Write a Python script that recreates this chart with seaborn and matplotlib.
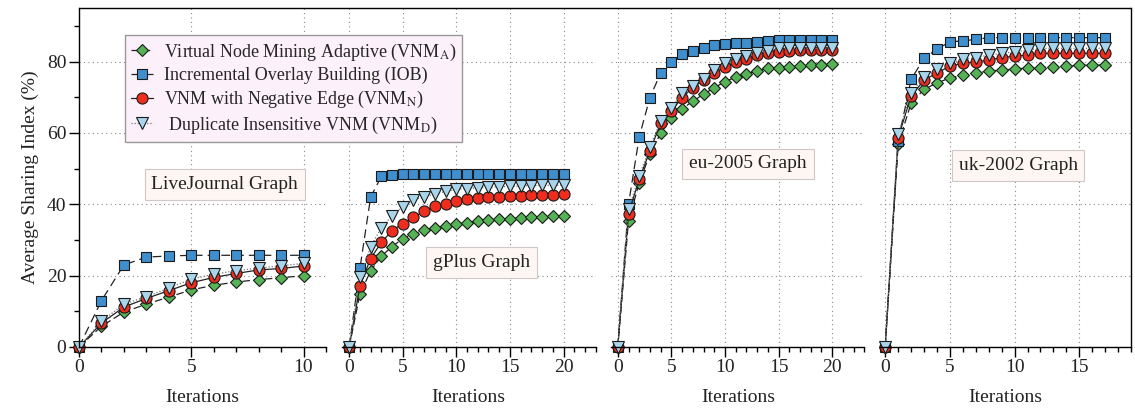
import matplotlib

matplotlib.use("Agg")
import matplotlib.pyplot as plt
import pandas as pd
import seaborn as sns
from matplotlib.lines import Line2D
from matplotlib.ticker import MultipleLocator

# --- data (Average Sharing Index, %) ---
lj_iter = list(range(11))
lj_vnma = [0, 5.8, 9.8, 12.0, 14.0, 16.0, 17.3, 18.2, 18.9, 19.4, 20.0]
lj_iob = [0, 13.0, 23.0, 25.2, 25.5, 25.7, 25.7, 25.7, 25.7, 25.7, 25.7]
lj_vnmn = [0, 6.7, 11.2, 13.6, 15.8, 18.0, 19.5, 20.6, 21.6, 22.0, 22.7]
lj_vnmd = [0, 7.2, 12.0, 14.1, 16.5, 19.0, 20.4, 21.4, 22.1, 22.8, 23.4]

gp_iter = list(range(21))
gp_vnma = [0, 14.8, 21.3, 25.5, 28.1, 30.4, 31.6, 32.8, 33.4, 34.0, 34.5,
           34.8, 35.4, 35.6, 35.8, 36.0, 36.1, 36.4, 36.5, 36.6, 36.7]
gp_iob = [0, 22.0, 42.0, 47.8, 48.3, 48.5, 48.5, 48.5, 48.5, 48.5, 48.5,
          48.5, 48.5, 48.5, 48.5, 48.5, 48.5, 48.5, 48.5, 48.5, 48.5]
gp_vnmn = [0, 17.1, 24.8, 29.3, 32.6, 34.6, 36.3, 38.1, 39.5, 40.2, 40.9,
           41.4, 41.7, 41.9, 42.1, 42.3, 42.4, 42.5, 42.6, 42.7, 42.9]
gp_vnmd = [0, 19.7, 28.1, 33.4, 36.8, 39.3, 41.2, 42.1, 42.9, 43.6, 44.2,
           44.4, 44.6, 44.8, 44.9, 45.0, 45.1, 45.2, 45.3, 45.3, 45.4]

eu_iter = list(range(21))
eu_vnma = [0, 35.3, 46.0, 54.1, 59.9, 64.1, 66.7, 68.9, 70.8, 72.7, 74.3,
           75.7, 76.6, 77.4, 78.1, 78.3, 78.5, 78.7, 78.9, 79.1, 79.3]
eu_iob = [0, 40.0, 58.9, 69.9, 76.8, 79.8, 82.1, 83.0, 83.8, 84.5, 84.9,
          85.2, 85.3, 85.5, 85.7, 85.9, 85.9, 85.9, 85.9, 85.9, 85.9]
eu_vnmn = [0, 37.4, 47.0, 55.0, 62.7, 66.1, 69.9, 72.7, 74.8, 76.8, 78.5,
           79.9, 80.7, 81.8, 82.3, 82.7, 83.0, 83.2, 83.2, 83.2, 83.2]
eu_vnmd = [0, 38.6, 47.9, 56.1, 63.4, 66.9, 71.1, 73.1, 75.0, 77.6, 79.5,
           80.6, 81.5, 82.4, 83.0, 83.7, 83.7, 83.7, 83.7, 83.7, 83.7]

uk_iter = list(range(18))
uk_vnma = [0, 56.9, 68.3, 72.2, 74.0, 75.4, 76.2, 76.8, 77.3, 77.6, 77.9,
           78.2, 78.3, 78.5, 78.7, 78.9, 79.0, 79.0]
uk_iob = [0, 57.7, 75.0, 80.9, 83.5, 85.5, 85.8, 86.2, 86.7, 86.7, 86.7,
          86.7, 86.7, 86.7, 86.7, 86.7, 86.7, 86.7]
uk_vnmn = [0, 58.7, 70.3, 74.8, 76.8, 78.7, 79.5, 79.9, 80.4, 81.1, 81.5,
           81.8, 82.3, 82.3, 82.3, 82.3, 82.3, 82.3]
uk_vnmd = [0, 59.7, 71.2, 75.7, 77.9, 79.6, 80.6, 81.1, 81.8, 82.3, 82.7,
           83.2, 83.7, 83.7, 83.7, 83.7, 83.7, 83.7]

panel_titles = ["LiveJournal Graph", "gPlus Graph", "eu-2005 Graph", "uk-2002 Graph"]
series_labels = [
    r"Virtual Node Mining Adaptive (VNM$_\mathrm{A}$)",
    "Incremental Overlay Building (IOB)",
    r"VNM with Negative Edge (VNM$_\mathrm{N}$)",
    r" Duplicate Insensitive VNM (VNM$_\mathrm{D}$)",
]

PANELS = [
    (lj_iter, [lj_vnma, lj_iob, lj_vnmn, lj_vnmd]),
    (gp_iter, [gp_vnma, gp_iob, gp_vnmn, gp_vnmd]),
    (eu_iter, [eu_vnma, eu_iob, eu_vnmn, eu_vnmd]),
    (uk_iter, [uk_vnma, uk_iob, uk_vnmn, uk_vnmd]),
]

# styling
STYLES = [
    dict(marker="D", markersize=6.5, markerfacecolor="#55b255", color="#222222", linestyle=(0, (6, 3))),
    dict(marker="s", markersize=7, markerfacecolor="#3f8fce", color="#222222", linestyle=(0, (7, 4))),
    dict(marker="o", markersize=8, markerfacecolor="#ee2d1e", color="#222222", linestyle="-"),
    dict(marker="v", markersize=8.5, markerfacecolor="#a9d5ec", color="#777777", linestyle=(0, (1, 1.5))),
]
XLIMS = [(0, 11), (-0.7, 23), (-0.6, 23), (-0.4, 19)]
TITLE_POS = [(0.59, 0.48), (0.55, 0.25), (0.54, 0.54), (0.55, 0.535)]

sns.set_theme(style="ticks")
plt.rcParams["font.family"] = ["Liberation Serif", "DejaVu Serif"]
plt.rcParams["mathtext.fontset"] = "stix"

fig, axes = plt.subplots(
    1, 4, figsize=(11.35, 4.09), dpi=100, sharey=True,
    gridspec_kw=dict(width_ratios=[247, 254, 253, 251], wspace=0.0625,
                     left=0.0696, right=0.9965, bottom=0.1516, top=0.9804),
)

for i, (ax, (iters, values)) in enumerate(zip(axes, PANELS)):
    for label, vals, style in zip(series_labels, values, STYLES):
        df = pd.DataFrame({"Iterations": iters, "Sharing": vals})
        sns.lineplot(
            data=df, x="Iterations", y="Sharing", ax=ax, label=label,
            legend=False, linewidth=0.9, markeredgecolor="#1a1a1a",
            markeredgewidth=0.8, clip_on=False, **style,
        )
    ax.set_xlim(*XLIMS[i])
    ax.set_ylim(0, 95)
    ax.xaxis.set_major_locator(MultipleLocator(5))
    ax.xaxis.set_minor_locator(MultipleLocator(1))
    ax.yaxis.set_major_locator(MultipleLocator(20))
    ax.yaxis.set_minor_locator(MultipleLocator(10))
    ax.grid(True, which="major", color="#8a8a8a", linestyle=(0, (1, 3)), linewidth=0.8)
    ax.set_axisbelow(True)
    ax.tick_params(which="major", direction="out", length=7, width=1, labelsize=14,
                   color="black", labelcolor="#222222", pad=2)
    ax.tick_params(which="minor", direction="out", length=3.5, width=1, color="black")
    ax.spines["top"].set_visible(False)
    for side in ("left", "right", "bottom"):
        ax.spines[side].set_color("black")
        ax.spines[side].set_linewidth(1.0)
    if i > 0:
        ax.spines["left"].set_visible(False)
        ax.tick_params(axis="y", which="both", left=False, labelleft=False)
    if i < 3:
        ax.spines["right"].set_visible(False)
    ax.set_xlabel("Iterations", fontsize=14, color="#222222", labelpad=9)
    ax.set_ylabel("")
    ax.text(
        TITLE_POS[i][0], TITLE_POS[i][1], panel_titles[i], transform=ax.transAxes,
        ha="center", va="center", fontsize=14, color="#222222",
        bbox=dict(boxstyle="square,pad=0.35", facecolor="#fdf6f3", edgecolor="#cfc8c6", linewidth=0.8),
    )

axes[0].set_ylabel("Average Sharing Index (%)", fontsize=14, color="#222222", labelpad=6)

# continuous top frame across all panels
fig.add_artist(Line2D([0.0696, 0.9965], [0.9804, 0.9804], transform=fig.transFigure,
                      color="black", linewidth=1.0))

handles, labels = axes[0].get_legend_handles_labels()
fig.legend(
    handles, labels, loc="upper left", bbox_to_anchor=(0.110, 0.914),
    fontsize=13, frameon=True, fancybox=False, facecolor="#fcf1fa", edgecolor="#999999",
    framealpha=1.0, handlelength=1.2, handletextpad=0.6, labelspacing=0.25,
    borderpad=0.35, borderaxespad=0,
)

fig.savefig("out.png", dpi=100)
